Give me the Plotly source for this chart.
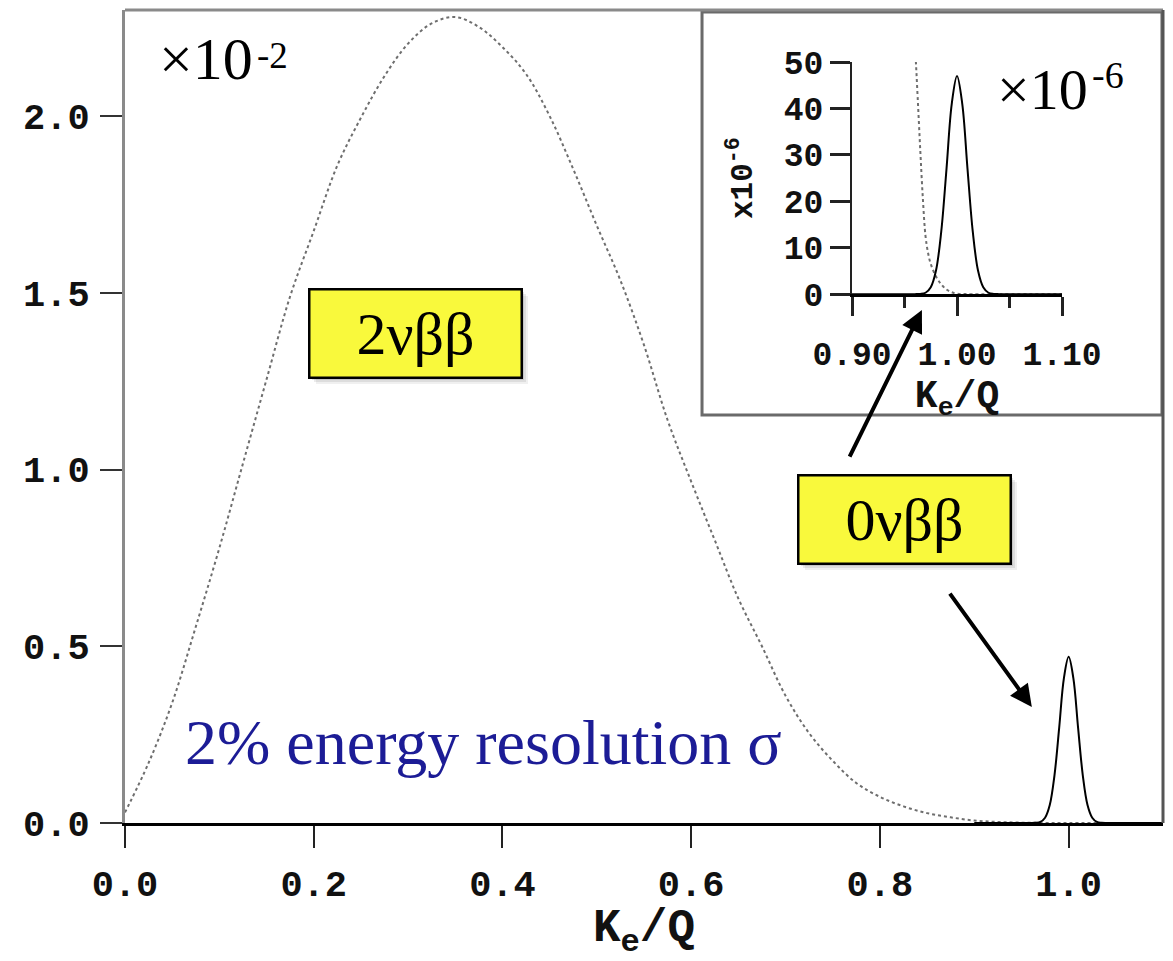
import plotly.graph_objects as go

# ---------------- data ----------------
# 2nu-beta-beta summed electron spectrum, main panel (units of 1e-2)
x_2nu = [0.000, 0.025, 0.050, 0.075, 0.100, 0.125, 0.150, 0.175, 0.200, 0.225,
         0.250, 0.275, 0.300, 0.325, 0.350, 0.375, 0.400, 0.425, 0.450, 0.475,
         0.500, 0.525, 0.550, 0.575, 0.600, 0.625, 0.650, 0.675, 0.700, 0.725,
         0.750, 0.775, 0.800, 0.825, 0.850, 0.875, 0.900, 0.925, 0.950, 0.975,
         1.000, 1.050, 1.100]
y_2nu = [0.030, 0.170, 0.340, 0.555, 0.778, 1.017, 1.255, 1.490, 1.675, 1.860,
         1.995, 2.113, 2.205, 2.262, 2.280, 2.252, 2.195, 2.119, 2.000, 1.850,
         1.690, 1.535, 1.352, 1.140, 0.966, 0.800, 0.635, 0.500, 0.360, 0.254,
         0.176, 0.113, 0.074, 0.047, 0.028, 0.016, 0.007, 0.003, 0.001, 0.0003,
         0.0, 0.0, 0.0]

# 0nu-beta-beta peak, main panel (units of 1e-2)
x_0nu = [0.900, 0.950, 0.955, 0.960, 0.965, 0.970, 0.975, 0.980, 0.985, 0.990,
         0.995, 1.000, 1.005, 1.010, 1.015, 1.020, 1.025, 1.030, 1.035, 1.040,
         1.045, 1.050, 1.100]
y_0nu = [0.0, 0.0, 0.0, 0.0, 0.0005, 0.003, 0.015, 0.051, 0.135, 0.270,
         0.410, 0.470, 0.410, 0.270, 0.135, 0.051, 0.015, 0.003, 0.0005, 0.0,
         0.0, 0.0, 0.0]

# inset: 2nu tail near the endpoint (units of 1e-6)
x_2nu_in = [0.950, 0.955, 0.960, 0.9625, 0.965, 0.9675, 0.970, 0.9725, 0.975,
            0.980, 0.985, 0.990, 0.995, 1.000, 1.010, 1.100]
y_2nu_in = [85.0, 66.0, 53.0, 42.5, 31.0, 20.5, 12.5, 8.8, 6.5,
            3.8, 2.1, 1.0, 0.4, 0.1, 0.0, 0.0]

# inset: 0nu peak (units of 1e-6)
x_0nu_in = [0.900, 0.950, 0.955, 0.960, 0.965, 0.970, 0.975, 0.980, 0.985, 0.990,
            0.995, 1.000, 1.005, 1.010, 1.015, 1.020, 1.025, 1.030, 1.035, 1.040,
            1.045, 1.050, 1.100]
y_0nu_in = [0.0, 0.0, 0.0, 0.0, 0.05, 0.3, 1.5, 5.1, 13.5, 27.0,
            41.0, 47.0, 41.0, 27.0, 13.5, 5.1, 1.5, 0.3, 0.05, 0.0,
            0.0, 0.0, 0.0]

x_ticks = [0.0, 0.2, 0.4, 0.6, 0.8, 1.0]
x_tick_text = ["0.0", "0.2", "0.4", "0.6", "0.8", "1.0"]
y_ticks = [0.0, 0.5, 1.0, 1.5, 2.0]
y_tick_text = ["0.0", "0.5", "1.0", "1.5", "2.0"]
xin_ticks = [0.90, 1.00, 1.10]
xin_tick_text = ["0.90", "1.00", "1.10"]
yin_ticks = [0, 10, 20, 30, 40, 50]
yin_tick_text = ["0", "10", "20", "30", "40", "50"]

# ---------------- figure ----------------
MONO = "Liberation Mono"
SERIF = "Liberation Serif"
GRAY_DOT = "#6e6e6e"

fig = go.Figure()
fig.add_trace(go.Scatter(x=x_2nu, y=y_2nu, mode="lines", line=dict(color=GRAY_DOT, width=2, dash="dot", shape="spline"),
                         xaxis="x", yaxis="y", showlegend=False, hoverinfo="skip"))
fig.add_trace(go.Scatter(x=x_0nu, y=y_0nu, mode="lines", line=dict(color="black", width=2, shape="spline"),
                         xaxis="x", yaxis="y", showlegend=False, hoverinfo="skip"))
fig.add_trace(go.Scatter(x=x_2nu_in, y=y_2nu_in, mode="lines", line=dict(color=GRAY_DOT, width=2, dash="dot", shape="spline"),
                         xaxis="x2", yaxis="y2", showlegend=False, hoverinfo="skip"))
fig.add_trace(go.Scatter(x=x_0nu_in, y=y_0nu_in, mode="lines", line=dict(color="black", width=2, shape="spline"),
                         xaxis="x2", yaxis="y2", showlegend=False, hoverinfo="skip"))

tickfont_main = dict(family=MONO, size=37, color="#111", weight="bold")
tickfont_in = dict(family=MONO, size=33, color="#111", weight="bold")

# page body has an 8px margin: figure is sized to fit the 1173x961 window
fig.update_layout(
    width=1165, height=953,
    margin=dict(l=117, r=10, t=2, b=138, autoexpand=False),
    paper_bgcolor="white",
    plot_bgcolor="rgba(0,0,0,0)",
    showlegend=False,
    xaxis=dict(domain=[0, 1], range=[0, 1.1], showline=True, linecolor="black", linewidth=3,
               ticks="outside", ticklen=22, tickwidth=2, tickcolor="#222",
               tickvals=x_ticks, ticktext=x_tick_text, tickfont=tickfont_main,
               ticklabelstandoff=4, automargin=False,
               showgrid=False, zeroline=False,
               title=dict(text="K<sub>e</sub>/Q", font=dict(family=MONO, size=46, color="#111", weight="bold"),
                          standoff=32)),
    yaxis=dict(domain=[0, 1], range=[0, 2.3], showline=True, linecolor="#8a8a8a", linewidth=3,
               ticks="outside", ticklen=22, tickwidth=2, tickcolor="#333",
               tickvals=y_ticks, ticktext=y_tick_text, tickfont=tickfont_main,
               ticklabelstandoff=3, automargin=False,
               showgrid=False, zeroline=False),
    xaxis2=dict(domain=[0.7004, 0.9027], anchor="y2", range=[0.9, 1.1], showline=True, linecolor="black",
                linewidth=2.5, ticks="outside", ticklen=19, tickwidth=2.5, tickcolor="#222",
                tickvals=xin_ticks, ticktext=xin_tick_text, tickfont=tickfont_in,
                ticklabelstandoff=10, automargin=False,
                minor=dict(dtick=0.05, tick0=0.9, ticks="outside", ticklen=11, tickwidth=2.5, tickcolor="#222"),
                showgrid=False, zeroline=False,
                title=dict(text="K<sub>e</sub>/Q", font=dict(family=MONO, size=38, color="#111", weight="bold"),
                           standoff=0)),
    yaxis2=dict(domain=[0.6505, 0.936], anchor="x2", range=[0, 50], showline=True, linecolor="#222",
                linewidth=2, ticks="outside", ticklen=20, tickwidth=2.5, tickcolor="#222",
                tickvals=yin_ticks, ticktext=yin_tick_text, tickfont=tickfont_in,
                automargin=False,
                showgrid=False, zeroline=False,
                title=dict(text="x10<sup>-6</sup>", font=dict(family=MONO, size=31, color="#111", weight="bold"),
                           standoff=22)),
)

# frame lines and inset box
fig.add_shape(type="line", xref="paper", yref="paper", x0=0, x1=1, y0=1, y1=1,
              line=dict(color="#8a8a8a", width=3))
fig.add_shape(type="line", xref="paper", yref="paper", x0=1, x1=1, y0=0, y1=1,
              line=dict(color="#555555", width=3))
fig.add_shape(type="rect", xref="paper", yref="paper", x0=0.5559, x1=0.999, y0=0.5018, y1=0.9975,
              line=dict(color="#6a6a6a", width=3), fillcolor="white", layer="below")

# scale texts (base and exponent placed separately)
fig.add_annotation(xref="paper", yref="paper", x=0.0308, y=0.9397, xanchor="left", yanchor="middle",
                   text="×10", showarrow=False, font=dict(family=SERIF, size=60, color="black"))
fig.add_annotation(xref="paper", yref="paper", x=0.1252, y=0.9446, xanchor="left", yanchor="middle",
                   text="-2", showarrow=False, font=dict(family=SERIF, size=37, color="black"))
fig.add_annotation(xref="paper", yref="paper", x=0.8382, y=0.9016, xanchor="left", yanchor="middle",
                   text="×10", showarrow=False, font=dict(family=SERIF, size=58, color="black"))
fig.add_annotation(xref="paper", yref="paper", x=0.9297, y=0.9201, xanchor="left", yanchor="middle",
                   text="-6", showarrow=False, font=dict(family=SERIF, size=38, color="black"))

fig.add_annotation(xref="paper", yref="paper", x=0.0559, y=0.099, xanchor="left", yanchor="middle",
                   text="2% energy resolution σ", showarrow=False,
                   font=dict(family=SERIF, size=64, color="#1c1c96"))

# yellow label boxes (shadow first)
for bx, by, label in [(0.2794, 0.6027, "2νββ"), (0.7505, 0.3739, "0νββ")]:
    for k, a in [(7, 0.06), (5, 0.08), (3, 0.10)]:
        fig.add_annotation(xref="paper", yref="paper", x=bx, y=by, xshift=k, yshift=-k,
                           xanchor="center", yanchor="middle",
                           text="", showarrow=False, width=210, height=86,
                           bgcolor=f"rgba(0,0,0,{a})", borderwidth=0)
    fig.add_annotation(xref="paper", yref="paper", x=bx, y=by, text=label, showarrow=False,
                       xanchor="center", yanchor="middle",
                       width=208, height=84, bgcolor="#f9f93c", bordercolor="black", borderwidth=2.5,
                       font=dict(family=SERIF, size=60, color="black"))

# arrows
fig.add_annotation(x=0.8445, y=1.451, xref="x", yref="y", ax=-73, ay=148, text="",
                   showarrow=True, arrowhead=2, arrowsize=1.1, arrowwidth=4, arrowcolor="black")
fig.add_annotation(x=0.961, y=0.328, xref="x", yref="y", ax=-83, ay=-115, text="",
                   showarrow=True, arrowhead=2, arrowsize=1.1, arrowwidth=4, arrowcolor="black")

fig.write_html("out.html")
